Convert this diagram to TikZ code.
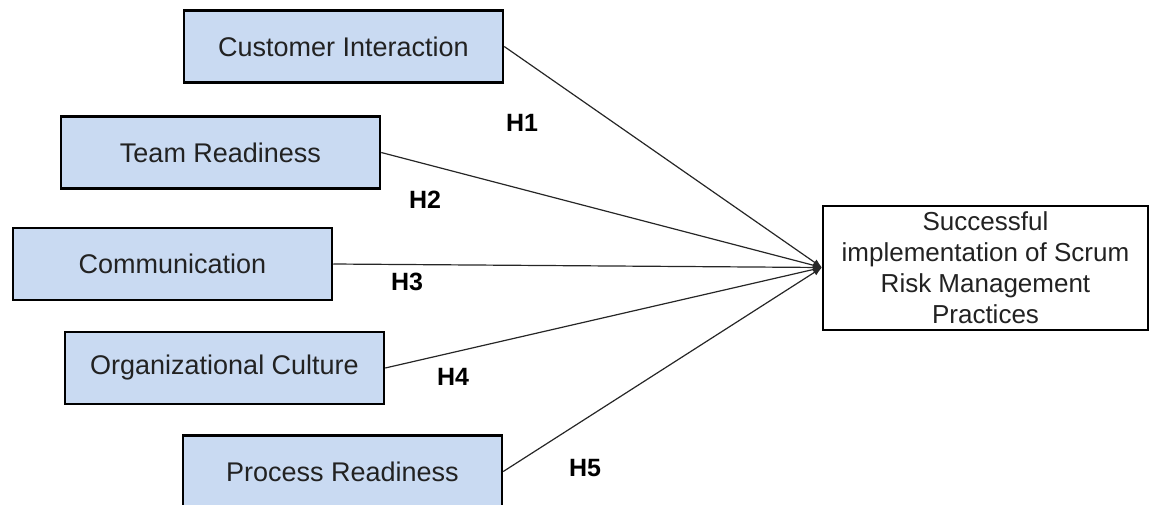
\documentclass[tikz,border=0pt]{standalone}
\usepackage{fontspec}
\setmainfont{Liberation Sans}
\usetikzlibrary{arrows.meta,positioning}
\definecolor{factorblue}{RGB}{201,218,242}
\definecolor{inktext}{RGB}{34,34,34}

\begin{document}
\begin{tikzpicture}[x=1pt, y=-1pt,
    factor/.style={rectangle, draw=black, line width=2.5pt, fill=factorblue,
                   minimum width=319pt, minimum height=72pt, inner sep=0pt,
                   font=\fontsize{27}{30}\selectfont, text=inktext},
    outcome/.style={rectangle, draw=black, line width=2pt, fill=white,
                    minimum width=325pt, minimum height=124pt, inner sep=0pt,
                    align=center, font=\fontsize{26}{31}\selectfont, text=inktext},
    arr/.style={-{Latex[length=9pt, width=7pt]}, line width=1.2pt, draw=black!85},
    hlabel/.style={font=\bfseries\fontsize{25}{30}\selectfont},
  ]
  \useasboundingbox (0,0) rectangle (1152,504);

  % --- independent factors ---
  \node[factor] (ci)  at (343.5, 46.5) {Customer Interaction};
  \node[factor] (tr)  at (220.5, 152.5) {Team Readiness};
  \node[factor] (com) at (172.5, 264) {Communication};
  \node[factor] (oc)  at (224.5, 368) {Organizational Culture};
  \node[factor] (pr)  at (342.5, 471.5) {Process Readiness};

  % --- dependent outcome ---
  \node[outcome] (out) at (985.5, 267.5)
    {Successful\\implementation of Scrum\\Risk Management\\Practices};

  % --- hypotheses ---
  \foreach \src in {ci, tr, com, oc, pr}
    \draw[arr] (\src.east) -- (out.west);

  \node[hlabel] (h1) at (522, 123) {H1};
  \node[hlabel] (h2) at (425, 200) {H2};
  \node[hlabel] (h3) at (407, 282) {H3};
  \node[hlabel] (h4) at (453, 377) {H4};
  \node[hlabel] (h5) at (585, 468) {H5};
\end{tikzpicture}
\end{document}
